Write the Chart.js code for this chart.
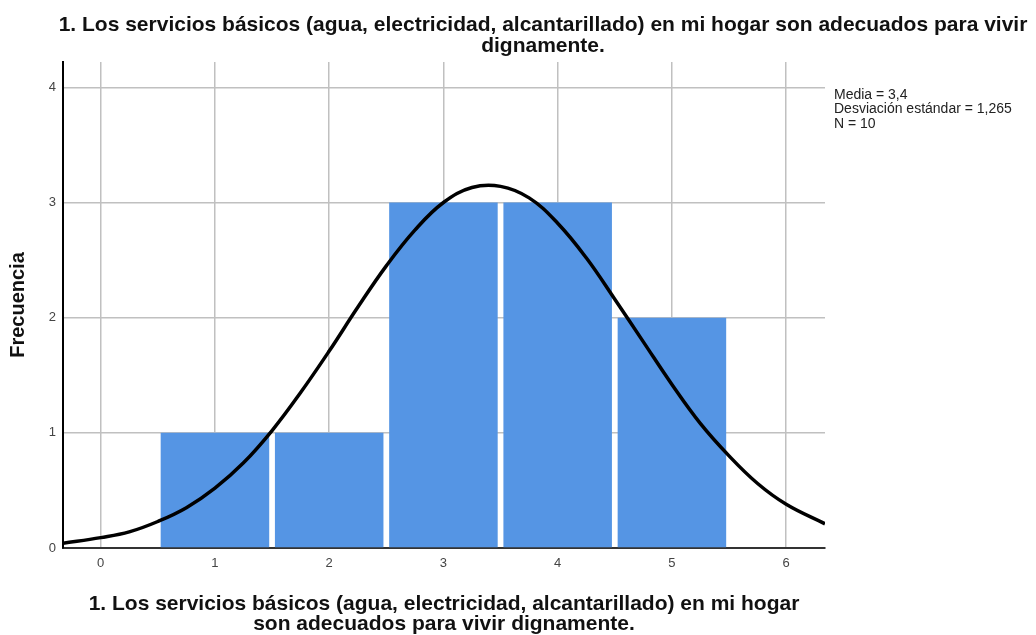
<!DOCTYPE html>
<html>
<head>
<meta charset="utf-8">
<script src="https://cdn.jsdelivr.net/npm/chart.js@4"></script>
<style>
  body { margin: 0; background: #fff; }
  canvas { display: block; }
</style>
</head>
<body>
<canvas id="histograma" width="1036" height="635"></canvas>
<script>
// datos
const categorias = [1, 2, 3, 4, 5];
const frecuencias = [1, 1, 3, 3, 2];
// curva normal (estimada a ojo sobre la imagen, cada 0,25)
const curvaX = [-0.33, 0, 0.25, 0.5, 0.75, 1, 1.25, 1.5, 1.75, 2, 2.25, 2.5, 2.75, 3,
    3.25, 3.5, 3.75, 4, 4.25, 4.5, 4.75, 5, 5.25, 5.5, 5.75, 6, 6.34];
const curvaY = [0.04, 0.09, 0.14, 0.23, 0.35, 0.52, 0.74, 1.02, 1.35, 1.71, 2.09, 2.45, 2.76, 3.0,
    3.13, 3.14, 3.04, 2.82, 2.52, 2.16, 1.79, 1.42, 1.08, 0.8, 0.56, 0.38, 0.21];
const estadisticos = ["Media = 3,4", "Desviación estándar = 1,265", "N = 10"];
const tituloLineas = [
    "1. Los servicios básicos (agua, electricidad, alcantarillado) en mi hogar son adecuados para vivir",
    "dignamente."
];
const tituloEjeX = [
    "1. Los servicios básicos (agua, electricidad, alcantarillado) en mi hogar",
    "son adecuados para vivir dignamente."
];

const fuente = "'Liberation Sans', Arial, sans-serif";

// titulo y cuadro de estadisticos
const textosPlugin = {
    id: 'textos',
    afterDraw(chart) {
        const ctx = chart.ctx;
        ctx.save();
        ctx.fillStyle = '#111';
        ctx.textBaseline = 'middle';
        ctx.textAlign = 'center';
        ctx.font = "bold 21px " + fuente;
        ctx.fillText(tituloLineas[0], 543, 25);
        ctx.fillText(tituloLineas[1], 543, 46);
        ctx.textAlign = 'left';
        ctx.font = "14px " + fuente;
        ctx.fillStyle = '#222';
        estadisticos.forEach((t, i) => ctx.fillText(t, 834, 95 + i * 14.5));
        ctx.restore();
    }
};

const ctx = document.getElementById('histograma').getContext('2d');
const histograma = new Chart(ctx, {
    type: 'bar',
    data: {
        datasets: [{
            type: 'line',
            data: curvaX.map((x, i) => ({ x: x, y: curvaY[i] })),
            borderColor: '#000',
            borderWidth: 3.5,
            pointRadius: 0,
            tension: 0.4,
            fill: false,
            order: 0
        }, {
            type: 'bar',
            data: categorias.map((c, i) => ({ x: c, y: frecuencias[i] })),
            backgroundColor: '#5595e4',
            borderWidth: 0,
            barPercentage: 0.95,
            categoryPercentage: 1,
            order: 1
        }]
    },
    options: {
        responsive: false,
        animation: false,
        layout: { padding: { top: 62, right: 211, left: 0, bottom: 0 } },
        plugins: {
            legend: { display: false },
            tooltip: { enabled: false }
        },
        scales: {
            x: {
                type: 'linear',
                min: -0.33,
                max: 6.34,
                offset: false,
                afterFit: s => { s.height = 87; },
                grid: { color: '#c0c0c0', lineWidth: 1.5, drawTicks: false, offset: false },
                border: { color: '#333', width: 2 },
                ticks: {
                    stepSize: 1,
                    includeBounds: false,
                    padding: 8,
                    color: '#444',
                    font: { family: fuente, size: 13 }
                },
                title: {
                    display: true,
                    text: tituloEjeX,
                    color: '#111',
                    padding: { top: 0, bottom: 1 },
                    font: { family: fuente, size: 21, weight: 'bold', lineHeight: '20px' }
                }
            },
            y: {
                min: 0,
                max: 4.22,
                afterFit: s => { s.width = 63; },
                grid: { color: '#c0c0c0', lineWidth: 1.5, drawTicks: false },
                border: { color: '#000', width: 2 },
                ticks: {
                    stepSize: 1,
                    includeBounds: false,
                    padding: 7,
                    color: '#444',
                    font: { family: fuente, size: 13 }
                },
                title: {
                    display: true,
                    text: 'Frecuencia',
                    color: '#111',
                    padding: { top: 8, bottom: 0 },
                    font: { family: fuente, size: 20, weight: 'bold', lineHeight: '20px' }
                }
            }
        }
    },
    plugins: [textosPlugin]
});
</script>
</body>
</html>
